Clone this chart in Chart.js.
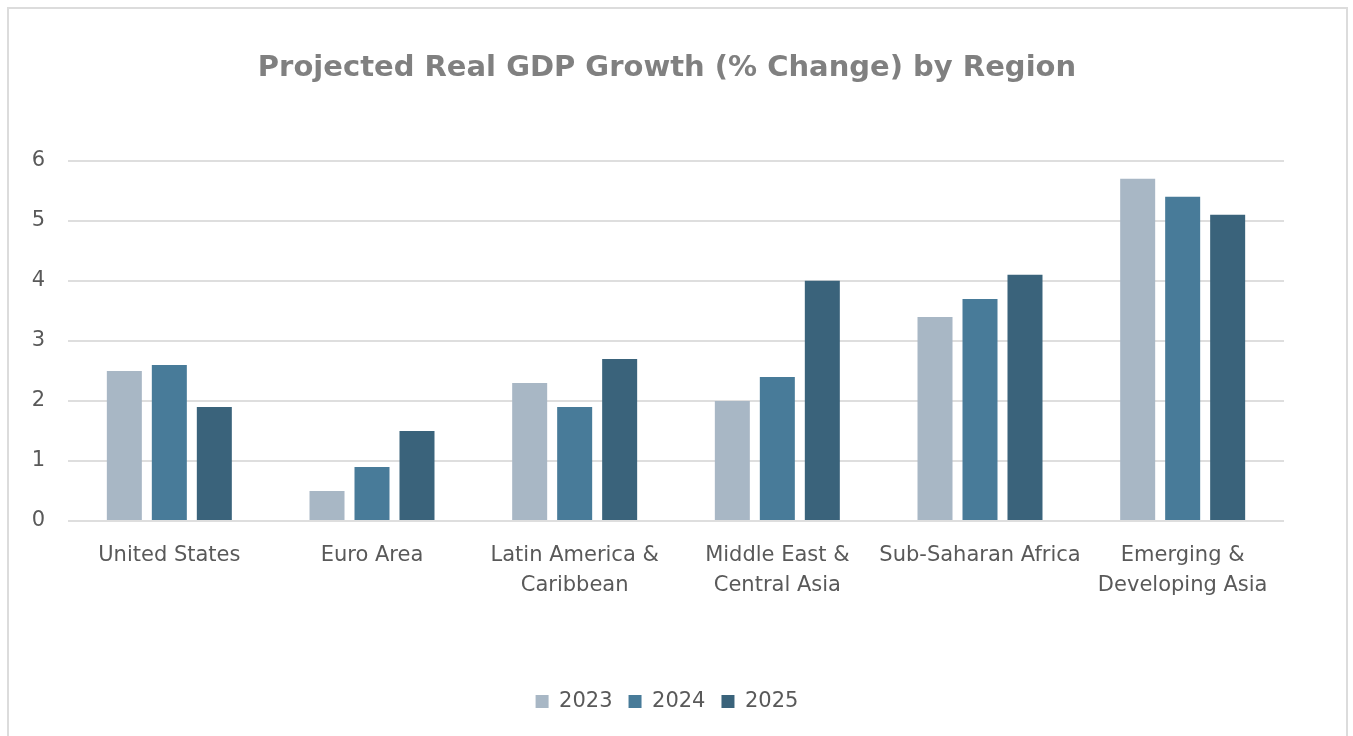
<!DOCTYPE html>
<html>
<head>
<meta charset="utf-8">
<script src="https://cdn.jsdelivr.net/npm/chart.js@4.4.1/dist/chart.umd.min.js"></script>
<style>
  html, body { margin: 0; padding: 0; background: #ffffff; overflow: hidden; }
  #frame {
    position: absolute; left: 7px; top: 7px;
    width: 1341px; height: 800px;
    border: 2px solid #dcdcdc; box-sizing: border-box;
  }
  #gdpChart { position: absolute; left: 0; top: 0; }
</style>
</head>
<body>
<div id="frame"></div>
<canvas id="gdpChart" width="1353" height="736"></canvas>
<script>
  // Regions and projected growth values (% change)
  const regions = [
    'United States',
    'Euro Area',
    ['Latin America &', 'Caribbean'],
    ['Middle East &', 'Central Asia'],
    'Sub-Saharan Africa',
    ['Emerging &', 'Developing Asia']
  ];
  const growth2023 = [2.5, 0.5, 2.3, 2.0, 3.4, 5.7];
  const growth2024 = [2.6, 0.9, 1.9, 2.4, 3.7, 5.4];
  const growth2025 = [1.9, 1.5, 2.7, 4.0, 4.1, 5.1];
  const yTicks = [0, 1, 2, 3, 4, 5, 6];

  const FONT = "'DejaVu Sans', sans-serif";
  const TEXT = '#595959';
  const GRID = '#dedede';

  function bar(label, data, color) {
    return {
      label, data,
      backgroundColor: color,
      borderWidth: 0,
      categoryPercentage: 0.666,
      barPercentage: 0.778,
    };
  }

  new Chart(document.getElementById('gdpChart'), {
    type: 'bar',
    data: {
      labels: regions,
      datasets: [
        bar('2023', growth2023, '#a8b7c5'),
        bar('2024', growth2024, '#487b99'),
        bar('2025', growth2025, '#3a637b'),
      ]
    },
    options: {
      responsive: false,
      animation: false,
      devicePixelRatio: 1,
      layout: { padding: { left: 8, right: 27, top: 8, bottom: 14 } },
      scales: {
        x: {
          grid: { display: false },
          border: { display: false },
          ticks: {
            color: TEXT, padding: 12, maxRotation: 0, autoSkip: false,
            font: { family: FONT, size: 21, lineHeight: 30 / 21 }
          },
          afterFit: s => { s.height = 154; }
        },
        y: {
          min: yTicks[0], max: yTicks[yTicks.length - 1],
          grid: { color: GRID, lineWidth: 2, drawTicks: false },
          border: { display: false },
          ticks: {
            stepSize: 1, color: TEXT, padding: 23,
            font: { family: FONT, size: 21 }
          },
          afterFit: s => { s.width = 60; }
        },
        // empty right-hand gutter so the plot ends where the reference does
        gutter: {
          position: 'right', display: true,
          grid: { display: false, drawOnChartArea: false },
          border: { display: false },
          ticks: { display: false },
          afterFit: s => { s.width = 42; }
        }
      },
      plugins: {
        title: {
          display: true,
          text: 'Projected Real GDP Growth (% Change) by Region',
          color: '#808080',
          font: { family: FONT, size: 29, weight: 'bold', lineHeight: 1.2 },
          padding: { top: 43, bottom: 75 }
        },
        legend: {
          position: 'bottom',
          labels: {
            color: TEXT, boxWidth: 13, boxHeight: 13, padding: 16,
            font: { family: FONT, size: 21 }
          }
        },
        tooltip: { enabled: false }
      }
    }
  });
</script>
</body>
</html>
